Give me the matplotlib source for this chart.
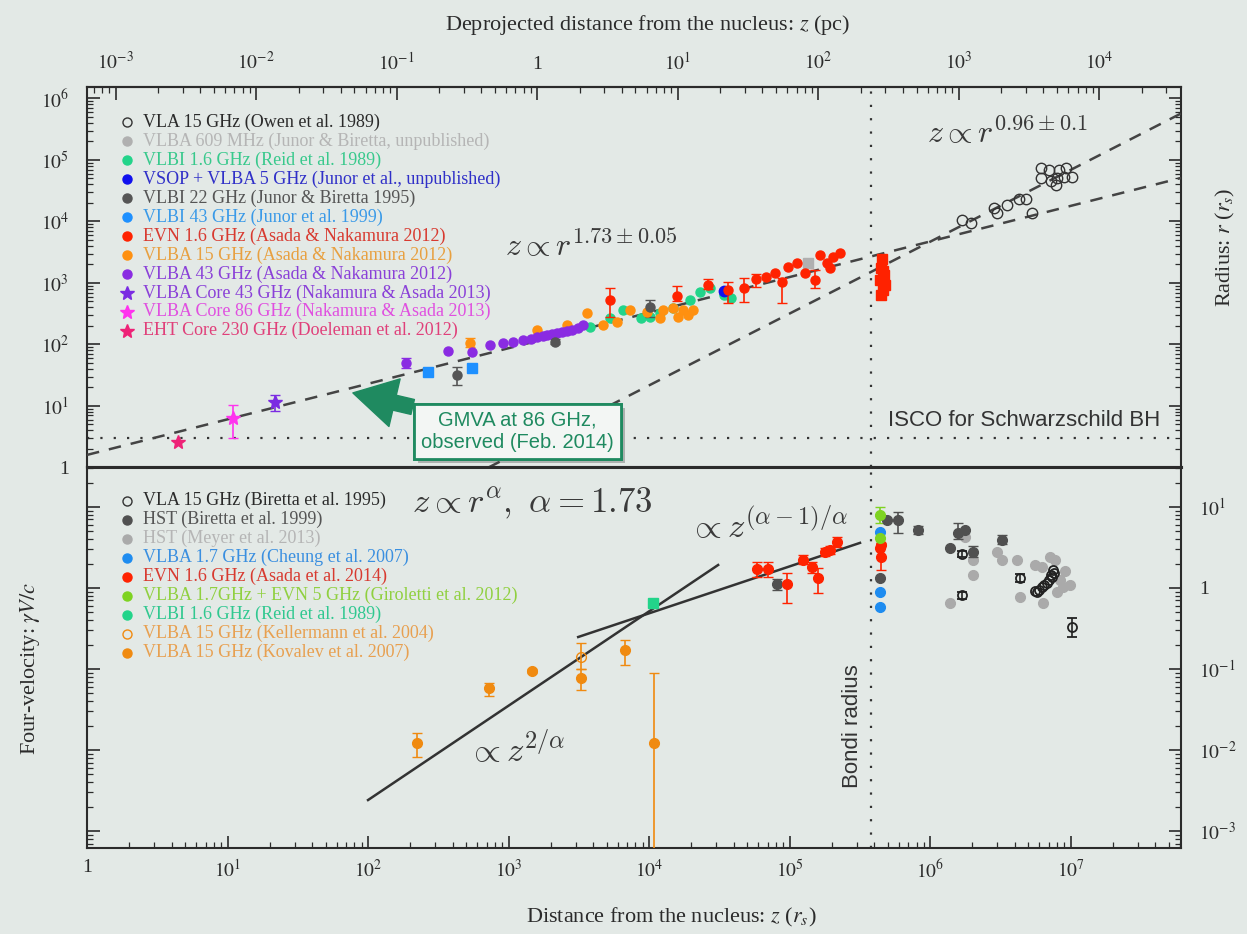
import numpy as np
import matplotlib.pyplot as plt
import matplotlib.patheffects as pe
from matplotlib.ticker import LogLocator, FixedLocator, FuncFormatter, NullFormatter

plt.rcParams['font.family'] = ['Liberation Serif', 'DejaVu Serif']
plt.rcParams['mathtext.fontset'] = 'stix'

BG = '#e3e9e6'
INK = '#2b2b2b'
GREEN = '#1f8a60'
RS_PER_PC = 1.6e3      # Schwarzschild radii per parsec
BONDI_RS = 3.8e5
ISCO_RS = 3.0
nan = np.nan

# ---------------- upper panel: jet radius r(z) ----------------
owen_z = [1.69e6, 1.96e6, 2.86e6, 3.0e6, 3.53e6, 4.3e6, 4.82e6, 5.32e6, 6.17e6, 7.0e6,
          8.3e6, 9.3e6, 6.17e6, 7.26e6, 8.0e6, 9.0e6, 1.03e7, 7.9e6]
owen_r = [1.07e4, 9.3e3, 1.63e4, 1.35e4, 1.82e4, 2.36e4, 2.36e4, 1.35e4, 7.3e4, 7.0e4,
          7.0e4, 7.3e4, 5.0e4, 4.6e4, 5.0e4, 5.2e4, 5.2e4, 3.9e4]

v609_z = [1.35e5]
v609_r = [2.1e3]

reid_z = [3.8e3, 5.3e3, 6.5e3, 8.7e3, 1.02e4, 1.2e4, 1.48e4, 1.95e4, 2.3e4, 2.7e4, 3.4e4, 3.8e4]
reid_r = [193, 270, 363, 270, 280, 325, 390, 530, 710, 830, 635, 570]

vsop_z = [3.4e4]
vsop_r = [740]

junor22_z = [430, 2.14e3, 1.02e4]
junor22_r = [31.9, 110, 407]
junor22_lo = [22, 100, 282]
junor22_hi = [43, 121, 525]

junor43_z = [268, 550]
junor43_r = [35.8, 41.6]

evn12_z = [5.3e3, 1.58e4, 2.63e4, 3.64e4, 4.75e4, 5.77e4, 6.8e4, 7.9e4, 8.9e4, 9.8e4,
           1.13e5, 1.28e5, 1.52e5, 1.65e5, 1.85e5, 1.94e5, 2.04e5, 2.28e5]
evn12_r = [526, 615, 930, 770, 830, 1160, 1260, 1450, 1040, 1820,
           2110, 1450, 1120, 2850, 2110, 1740, 2640, 3080]
evn12_lo = [280, 500, 800, 473, 490, 870, nan, nan, 473, nan,
            nan, nan, 830, nan, nan, nan, nan, nan]
evn12_hi = [830, 895, 1160, 1040, 1200, 1380, nan, nan, 1200, nan,
            nan, nan, 1630, nan, nan, nan, nan, nan]

evn_bondi_z = [4.55e5, 4.5e5, 4.7e5, 4.4e5, 4.8e5, 4.6e5, 4.5e5, 4.65e5]
evn_bondi_r = [2.45e3, 1.74e3, 1.35e3, 1.1e3, 930, 770, 640, 1.55e3]

v15_z = [535, 1.6e3, 2.6e3, 3.6e3, 4.7e3, 5.9e3, 7.3e3, 9.7e3, 1.26e4, 1.48e4,
         1.74e4, 2.05e4, 1.2e4, 1.6e4, 1.9e4]
v15_r = [106, 173, 208, 325, 208, 232, 363, 338, 363, 390, 363, 363, 270, 280, 300]
v15_lo = [90] + [nan] * 14
v15_hi = [128] + [nan] * 14

v43_z = [186, 370, 550, 740, 910, 1.07e3, 1.26e3, 1.45e3, 1.59e3, 1.75e3, 1.87e3,
         2.05e3, 2.2e3, 2.4e3, 2.6e3, 2.85e3, 3.1e3, 3.4e3]
v43_r = [50, 78, 75, 98, 106, 110, 118, 125, 132, 137, 142, 150, 154, 160, 166, 175, 186, 208]
v43_lo = [42] + [nan] * 17
v43_hi = [60] + [nan] * 17

core43_z, core43_r, core43_lo, core43_hi = [21.8], [11.6], [8.3], [15.1]
core86_z, core86_r, core86_lo, core86_hi = [10.9], [6.4], [3.0], [10.4]
eht_z, eht_r = [4.44], [2.6]

# fitted profiles: parabolic inside, conical outside the Bondi radius
para_z = [1.0, 6.1e7]
para_r = [1.6, 5.1e4]
conical_z = [7.2e2, 6.1e7]
conical_r = [1.0, 5.7e5]

# ---------------- lower panel: four-velocity ----------------
vla95_z = [1.69e6, 1.69e6, 4.37e6, 1.03e7, 5.6e6, 5.8e6, 6.0e6, 6.3e6, 6.5e6, 6.8e6,
           7.0e6, 7.2e6, 7.4e6, 7.5e6, 7.6e6]
vla95_v = [2.63, 0.82, 1.33, 0.33, 0.92, 0.89, 0.95, 1.03, 1.1, 1.15,
           1.25, 1.45, 1.37, 1.67, 1.55]
vla95_lo = [2.4, 0.74, 1.2, 0.25] + [nan] * 11
vla95_hi = [2.85, 0.9, 1.47, 0.42] + [nan] * 11

hst99_z = [4.4e5, 8.1e4, 4.94e5, 5.9e5, 8.2e5, 1.38e6, 1.58e6, 1.77e6, 2.02e6, 3.24e6]
hst99_v = [1.33, 1.12, 6.9, 6.9, 5.2, 3.1, 4.8, 5.2, 2.8, 3.9]
hst99_lo = [nan, 0.95, nan, 4.8, 4.6, nan, 4.0, nan, 2.4, 3.45]
hst99_hi = [nan, 1.3, nan, 8.7, 5.8, nan, 6.3, nan, 3.3, 4.5]

hst13_z = [1.38e6, 1.77e6, 2.02e6, 2.02e6, 3.0e6, 3.25e6, 4.17e6, 4.37e6, 6.27e6,
           6.37e6, 7.1e6, 7.8e6, 8.4e6, 8.85e6, 8.0e6, 5.6e6, 9.1e6, 9.9e6]
hst13_v = [0.65, 4.3, 2.2, 1.45, 2.8, 2.2, 2.2, 0.78, 1.82,
           0.65, 2.4, 2.2, 1.26, 1.03, 0.89, 1.9, 1.6, 1.1]

cheung_z = [4.4e5, 4.4e5, 4.4e5]
cheung_v = [0.89, 0.58, 4.9]

evn14_z = [5.9e4, 7.0e4, 9.6e4, 1.25e5, 1.45e5, 1.6e5, 1.79e5, 1.94e5, 2.18e5,
           4.4e5, 4.5e5, 4.45e5]
evn14_v = [1.72, 1.72, 1.12, 2.22, 1.82, 1.33, 2.78, 2.95, 3.7, 3.1, 2.4, 3.35]
evn14_lo = [1.37, 1.37, 0.65, 1.95, 1.55, 0.87, 2.5, 2.6, 3.2, nan, 1.67, nan]
evn14_hi = [2.1, 2.1, 1.53, 2.55, 2.1, 1.77, 3.1, 3.3, 4.3, nan, 3.6, nan]

girol_z = [4.4e5, 4.4e5]
girol_v = [7.9, 4.1]
girol_lo = [6.3, nan]
girol_hi = [10.0, nan]

reid_v_z = [1.07e4]
reid_v = [0.65]

keller_z, keller_v, keller_lo, keller_hi = [3.28e3], [0.141], [0.10], [0.21]

koval_z = [223, 726, 1.47e3, 3.28e3, 6.75e3, 1.09e4]
koval_v = [0.0122, 0.058, 0.094, 0.077, 0.17, 0.0122]
koval_lo = [0.0082, 0.047, 0.088, 0.055, 0.112, 1e-5]
koval_hi = [0.0163, 0.067, 0.100, 0.10, 0.23, 0.089]

# velocity scalings: accelerating (z^{2/a}) and outer (z^{(a-1)/a})
acc_z = [100, 3.1e4]
acc_v = [0.00241, 1.92]
dec_z = [3.13e3, 3.17e5]
dec_v = [0.248, 3.6]

# tick positions
pc_ticks = [1e-3, 1e-2, 1e-1, 1, 1e1, 1e2, 1e3, 1e4]
rs_ticks = [1, 1e1, 1e2, 1e3, 1e4, 1e5, 1e6, 1e7]
r_ticks = [1, 1e1, 1e2, 1e3, 1e4, 1e5, 1e6]
v_ticks = [1e-3, 1e-2, 1e-1, 1, 1e1]

# legend entries
top_labels = ['VLA 15 GHz (Owen et al. 1989)',
              'VLBA 609 MHz (Junor & Biretta, unpublished)',
              'VLBI 1.6 GHz (Reid et al. 1989)',
              'VSOP + VLBA 5 GHz (Junor et al., unpublished)',
              'VLBI 22 GHz (Junor & Biretta 1995)',
              'VLBI 43 GHz (Junor et al. 1999)',
              'EVN 1.6 GHz (Asada & Nakamura 2012)',
              'VLBA 15 GHz (Asada & Nakamura 2012)',
              'VLBA 43 GHz (Asada & Nakamura 2012)',
              'VLBA Core 43 GHz (Nakamura & Asada 2013)',
              'VLBA Core 86 GHz (Nakamura & Asada 2013)',
              'EHT Core 230 GHz (Doeleman et al. 2012)']
top_colors = ['#333333', '#b0b0b0', '#22d48a', '#1010ee', '#555555', '#1e90ff',
              '#ff2200', '#ff9010', '#8a2be2', '#7b2be2', '#ff33ee', '#ee2277']
top_text = ['#2a2a2a', '#b5b5b5', '#38c98c', '#3030c8', '#555555', '#3a9ae8',
            '#d83a30', '#e8a040', '#8a40d8', '#8a40d8', '#e050e0', '#e0407a']
top_markers = ['o'] * 9 + ['*'] * 3
top_open = [True] + [False] * 11

bot_labels = ['VLA 15 GHz (Biretta et al. 1995)',
              'HST (Biretta et al. 1999)',
              'HST (Meyer et al. 2013)',
              'VLBA 1.7 GHz (Cheung et al. 2007)',
              'EVN 1.6 GHz (Asada et al. 2014)',
              'VLBA 1.7GHz + EVN 5 GHz (Giroletti et al. 2012)',
              'VLBI 1.6 GHz (Reid et al. 1989)',
              'VLBA 15 GHz (Kellermann et al. 2004)',
              'VLBA 15 GHz (Kovalev et al. 2007)']
bot_colors = ['#333333', '#505050', '#aaaaaa', '#1e8cf0', '#ff2200', '#7ed321',
              '#22d48a', '#f08a10', '#f08a10']
bot_text = ['#2a2a2a', '#555555', '#b5b5b5', '#3a8fe0', '#d83a30', '#90d040',
            '#30c890', '#e8a050', '#e8a050']
bot_open = [True, False, False, False, False, False, False, True, False]


def pow_label(v, pos):
    e = int(np.round(np.log10(v)))
    return '1' if e == 0 else r'$10^{%d}$' % e


def series(ax, z, y, color, lo=None, hi=None, marker='o', ms=6.5, hollow=False, mew=1.0):
    z = np.asarray(z, float)
    y = np.asarray(y, float)
    fc = 'none' if hollow else color
    if lo is None:
        ax.plot(z, y, ls='none', marker=marker, ms=ms, mfc=fc, mec=color, mew=mew, zorder=4)
    else:
        yerr = [y - np.asarray(lo, float), np.asarray(hi, float) - y]
        ax.errorbar(z, y, yerr=yerr, fmt=marker, ms=ms, mfc=fc, mec=color, mew=mew,
                    ecolor=color, elinewidth=1.2, capsize=3.5, capthick=1.2, zorder=4)


def draw_key(ax, labels, colors, text_colors, markers, hollow, y_top, step):
    for i, lab in enumerate(labels):
        y = y_top - i * step
        big = markers[i] == '*'
        ax.plot(0.0366, y, transform=ax.transAxes, ls='none', marker=markers[i],
                ms=10 if big else 6.5, mfc='none' if hollow[i] else colors[i],
                mec=colors[i], mew=1.0, clip_on=False, zorder=5)
        ax.text(0.0512, y, lab, transform=ax.transAxes, color=text_colors[i],
                fontsize=13, va='center', zorder=5)


def style_axis(ax):
    ax.set_facecolor(BG)
    for s in ax.spines.values():
        s.set_color(INK)
        s.set_linewidth(1.5)
    ax.tick_params(which='major', direction='in', length=9, width=1.2, color=INK,
                   labelsize=14, labelcolor=INK)
    ax.tick_params(which='minor', direction='in', length=4.5, width=0.9, color=INK)


fig = plt.figure(figsize=(12.47, 9.34), dpi=100)
fig.patch.set_facecolor(BG)

ax1 = fig.add_axes([87 / 1247, 0.4995, 1094 / 1247, 0.4074])
ax2 = fig.add_axes([87 / 1247, 0.0921, 1094 / 1247, 0.4074])

for ax in (ax1, ax2):
    ax.set_xscale('log')
    ax.set_yscale('log')
    ax.set_xlim(1, 6.1e7)
    style_axis(ax)
    ax.xaxis.set_major_locator(FixedLocator(rs_ticks))
    ax.xaxis.set_minor_locator(LogLocator(base=10, subs=np.arange(2, 10), numticks=200))
    ax.xaxis.set_minor_formatter(NullFormatter())
    ax.yaxis.set_minor_locator(LogLocator(base=10, subs=np.arange(2, 10), numticks=200))
    ax.yaxis.set_minor_formatter(NullFormatter())
    ax.axvline(BONDI_RS, color='#333333', lw=1.6, ls=(0, (1, 5)), zorder=2)

# ---- upper panel ----
ax1.set_ylim(1, 1.54e6)
ax1.yaxis.set_major_locator(FixedLocator(r_ticks))
ax1.yaxis.set_major_formatter(FuncFormatter(pow_label))
ax1.tick_params(axis='x', which='both', bottom=False, top=False, labelbottom=False)
ax1.tick_params(axis='y', which='both', left=True, right=True, labelleft=True, pad=13)
ax1.spines['bottom'].set_linewidth(2.2)

sec = ax1.secondary_xaxis('top', functions=(lambda z: z / RS_PER_PC, lambda p: p * RS_PER_PC))
sec.xaxis.set_major_locator(FixedLocator(pc_ticks))
sec.xaxis.set_minor_locator(LogLocator(base=10, subs=np.arange(2, 10), numticks=200))
sec.xaxis.set_major_formatter(FuncFormatter(pow_label))
sec.xaxis.set_minor_formatter(NullFormatter())
sec.tick_params(which='major', direction='in', length=9, width=1.2, color=INK,
                labelsize=14, labelcolor=INK, pad=10)
sec.tick_params(which='minor', direction='in', length=4.5, width=0.9, color=INK)
sec.spines['top'].set_color(INK)
sec.spines['top'].set_linewidth(1.5)

ax1.axhline(ISCO_RS, color='#333333', lw=1.6, ls=(0, (1, 5)), zorder=2)
ax1.plot(para_z, para_r, color='#444444', lw=1.8, ls=(0, (5, 4)), zorder=3)
ax1.plot(conical_z, conical_r, color='#444444', lw=1.8, ls=(0, (5, 4)), zorder=3)

series(ax1, owen_z, owen_r, '#333333', ms=7.5, hollow=True)
series(ax1, v609_z, v609_r, '#b0b0b0', marker='s')
series(ax1, reid_z, reid_r, '#22d48a')
series(ax1, v15_z, v15_r, '#ff9010', v15_lo, v15_hi)
series(ax1, v43_z, v43_r, '#8a2be2', v43_lo, v43_hi)
series(ax1, junor43_z, junor43_r, '#1e90ff', marker='s')
series(ax1, junor22_z, junor22_r, '#555555', junor22_lo, junor22_hi)
series(ax1, evn12_z, evn12_r, '#ff2200', evn12_lo, evn12_hi)
series(ax1, evn_bondi_z, evn_bondi_r, '#ff2200', marker='s')
series(ax1, vsop_z, vsop_r, '#1010ee', ms=7.5)
series(ax1, core43_z, core43_r, '#7b2be2', core43_lo, core43_hi, marker='*', ms=10)
series(ax1, core86_z, core86_r, '#ff33ee', core86_lo, core86_hi, marker='*', ms=10)
series(ax1, eht_z, eht_r, '#ee2277', marker='*', ms=10)

draw_key(ax1, top_labels, top_colors, top_text, top_markers, top_open, 0.908, 0.0499)

mtxt = dict(math_fontfamily='cm', color='#3a3a3a')
ax1.text(944, 2.65e3, r'$z \propto r^{1.73\pm0.05}$', fontsize=23, va='baseline', **mtxt)
ax1.text(9.5e5, 1.9e5, r'$z \propto r^{0.96\pm0.1}$', fontsize=23, va='baseline', **mtxt)
ax1.text(5.0e5, 5.9, 'ISCO for Schwarzschild BH', family='Liberation Sans',
         fontsize=16, va='center', color='#333333')

gmva = ax1.annotate('GMVA at 86 GHz,\nobserved (Feb. 2014)', xy=(78, 16.3),
                    xytext=(1.15e3, 3.85), ha='center', va='center', color=GREEN,
                    fontsize=14.5, family='Liberation Sans', linespacing=1.2, zorder=7,
                    bbox=dict(boxstyle='square,pad=0.35', fc='#f3f6f4', ec=GREEN, lw=2),
                    arrowprops=dict(arrowstyle='simple,head_length=1.4,head_width=1.6,tail_width=0.5',
                                    fc=GREEN, ec=GREEN, mutation_scale=22,
                                    shrinkA=0, shrinkB=0))
gmva.get_bbox_patch().set_path_effects([pe.withSimplePatchShadow(offset=(3, -3), alpha=0.35),
                                        pe.Normal()])

# ---- lower panel ----
ax2.set_ylim(6.17e-4, 30.7)
ax2.yaxis.set_major_locator(FixedLocator(v_ticks))
ax2.xaxis.set_major_formatter(FuncFormatter(pow_label))
ax2.yaxis.set_major_formatter(FuncFormatter(pow_label))
ax2.tick_params(axis='x', which='both', bottom=True, top=False, pad=8)
ax2.tick_params(axis='y', which='both', left=True, right=True, labelleft=False,
                labelright=True, pad=13)
ax2.spines['top'].set_linewidth(2.2)

ax2.plot(acc_z, acc_v, color='#333333', lw=1.8, zorder=3)
ax2.plot(dec_z, dec_v, color='#333333', lw=1.8, zorder=3)

series(ax2, hst13_z, hst13_v, '#aaaaaa', ms=7)
series(ax2, hst99_z, hst99_v, '#505050', hst99_lo, hst99_hi, ms=7)
series(ax2, vla95_z, vla95_v, '#222222', vla95_lo, vla95_hi, ms=6.5, hollow=True, mew=1.3)
series(ax2, cheung_z, cheung_v, '#1e8cf0', ms=7)
series(ax2, evn14_z, evn14_v, '#ff2200', evn14_lo, evn14_hi, ms=7)
series(ax2, girol_z, girol_v, '#7ed321', girol_lo, girol_hi, ms=7)
series(ax2, reid_v_z, reid_v, '#22d48a', marker='s', ms=7)
series(ax2, keller_z, keller_v, '#f08a10', keller_lo, keller_hi, ms=7, hollow=True)
series(ax2, koval_z, koval_v, '#f08a10', koval_lo, koval_hi, ms=7)

draw_key(ax2, bot_labels, bot_colors, bot_text, ['o'] * 9, bot_open, 0.913, 0.05)

ax2.text(206, 8.7, r'$z \propto r^{\alpha},\ \alpha = 1.73$', fontsize=25, va='baseline', **mtxt)
ax2.text(1.9e4, 4.14, r'$\propto z^{(\alpha-1)/\alpha}$', fontsize=25, va='baseline', **mtxt)
ax2.text(507, 0.0071, r'$\propto z^{2/\alpha}$', fontsize=25, va='baseline', **mtxt)
ax2.text(2.79e5, 0.0197, 'Bondi radius', rotation=90, ha='center', va='center',
         family='Liberation Sans', fontsize=16, color='#333333')

# ---- axis titles ----
fig.text(648 / 1247, 1 - 25 / 934, 'Deprojected distance from the nucleus: $z$ (pc)',
         ha='center', va='center', fontsize=16, color=INK)
fig.text(671 / 1247, 1 - 917 / 934, 'Distance from the nucleus: $z$ ($r_s$)',
         ha='center', va='center', fontsize=16, color=INK)
fig.text(30 / 1247, 1 - 668 / 934, r'Four-velocity: $\gamma V/c$', rotation=90,
         ha='center', va='center', fontsize=16, color=INK)
fig.text(1225 / 1247, 1 - 247 / 934, 'Radius: $r$ ($r_s$)', rotation=90,
         ha='center', va='center', fontsize=16, color=INK)

fig.savefig('out.png', dpi=100, facecolor=BG)
